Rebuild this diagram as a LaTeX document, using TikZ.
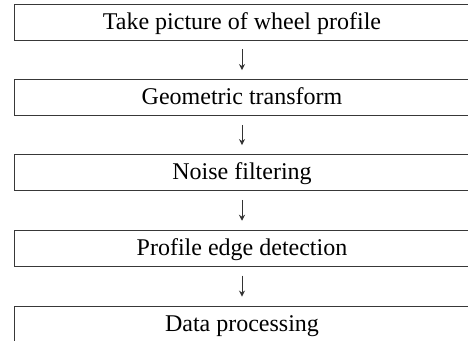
\documentclass[tikz,border=0pt]{standalone}
\usepackage{fontspec}
\setmainfont{Liberation Serif}
\usetikzlibrary{arrows.meta}
\begin{document}
\begin{tikzpicture}[x=1pt,y=1pt,
  stepbox/.style={draw=black!78, line width=0.9pt, minimum width=456pt, minimum height=36pt,
    inner sep=0pt, text height=17pt, text depth=2.4pt,
    font=\fontsize{24}{28}\selectfont},
  flowarrow/.style={draw=black!80, line width=1pt, shorten <=9pt, shorten >=9pt,
    -{Stealth[length=6pt,width=6pt,inset=2pt]}}]
\useasboundingbox (0,0) rectangle (468,-340);
\node[stepbox] (s1) at (242,-22) {Take picture of wheel profile};
\node[stepbox] (s2) at (242,-97.5) {Geometric transform};
\node[stepbox] (s3) at (242,-172.5) {Noise filtering};
\node[stepbox] (s4) at (242,-248.2) {Profile edge detection};
\node[stepbox] (s5) at (242,-324) {Data processing};
\draw[flowarrow] (s1.south) -- (s2.north);
\draw[flowarrow] (s2.south) -- (s3.north);
\draw[flowarrow] (s3.south) -- (s4.north);
\draw[flowarrow] (s4.south) -- (s5.north);
\end{tikzpicture}
\end{document}
